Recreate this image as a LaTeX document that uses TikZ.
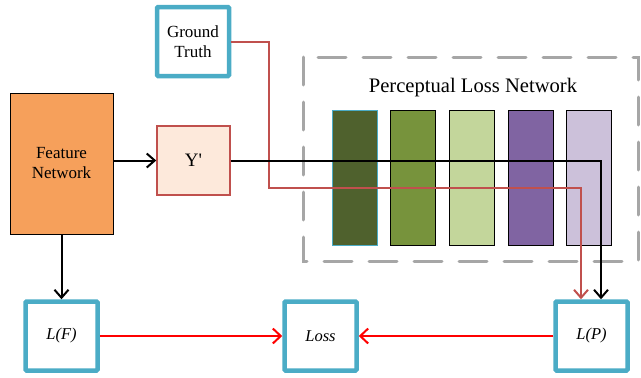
\documentclass[tikz,border=0pt]{standalone}
\usepackage{fontspec}
\setmainfont{Liberation Serif}
\usetikzlibrary{arrows.meta}
\definecolor{aqua}{HTML}{4BACC6}
\definecolor{fnorange}{HTML}{F6A05B}
\definecolor{ypfill}{HTML}{FDE9DB}
\definecolor{ypred}{HTML}{C0504D}
\definecolor{dashgray}{HTML}{A6A6A6}
\definecolor{barA}{HTML}{4F612D}
\definecolor{barB}{HTML}{77933C}
\definecolor{barC}{HTML}{C3D69B}
\definecolor{barD}{HTML}{8064A2}
\definecolor{barE}{HTML}{CCC1DA}
\definecolor{lossred}{HTML}{FF0000}
\begin{document}
\begin{tikzpicture}[x=1pt,y=-1pt,
  aquabox/.style={draw=aqua, line width=4.5pt, fill=white, minimum width=72pt, minimum height=69pt, inner sep=0pt, align=center, rounded corners=1pt},
  bar/.style={draw=black, line width=0.8pt, minimum width=45pt, minimum height=135pt, inner sep=0pt},
  blk/.style={draw=black, line width=2pt, -{Straight Barb[length=8pt,width=14pt]}},
  gtline/.style={draw=ypred, line width=2pt, -{Straight Barb[length=8pt,width=14pt]}},
  redarrow/.style={draw=lossred, line width=2pt, -{Straight Barb[length=8pt,width=15pt]}},
  midfont/.style={font=\fontsize{17}{20}\selectfont},
  itfont/.style={font=\fontsize{16.5}{19}\selectfont\itshape}
]
\useasboundingbox (0,0) rectangle (641,378);

% dashed frame
\draw[dashgray, line width=3pt, dash pattern=on 28pt off 17pt, line cap=round] (303,57) rectangle (638,261);
\node[font=\fontsize{20.6}{24}\selectfont] (pln) at (473,88) {Perceptual Loss Network};

% bars
\node[bar, fill=barA, draw=aqua] (b1) at (354.5,177.5) {};
\node[bar, fill=barB] (b2) at (413,177.5) {};
\node[bar, fill=barC] (b3) at (471.5,177.5) {};
\node[bar, fill=barD] (b4) at (530.5,177.5) {};
\node[bar, fill=barE] (b5) at (589,177.5) {};

% boxes
\node[aquabox, midfont] (gt) at (193,41.5) {Ground\\Truth};
\node[draw=black, line width=1pt, fill=fnorange, minimum width=103pt, minimum height=141pt, inner sep=0pt, align=center, midfont] (fn) at (61.5,163.5) {Feature\\Network};
\node[draw=ypred, line width=1.5pt, fill=ypfill, minimum width=73pt, minimum height=69pt, inner sep=0pt, font=\fontsize{19}{22}\selectfont] (yp) at (193.5,160.5) {Y\textquotesingle};

\node[aquabox, itfont] (lf) at (61.5,336) {L(F)};
\node[aquabox, itfont] (loss) at (320.5,336) {Loss};
\node[aquabox, itfont] (lp) at (591.5,336) {L(P)};

% connectors
\coordinate (g1) at (269,188);
\draw[gtline] (gt.east) -| (g1) -| ([xshift=-10.5pt]lp.north);
\draw[blk] (fn.east |- yp.west) -- (yp.west);
\draw[blk] (yp.east) -| ([xshift=9.5pt]lp.north);
\draw[blk] (fn.south) -- (lf.north);
\draw[redarrow] (lf.east) -- (loss.west);
\draw[redarrow] (lp.west) -- (loss.east);
\end{tikzpicture}
\end{document}
